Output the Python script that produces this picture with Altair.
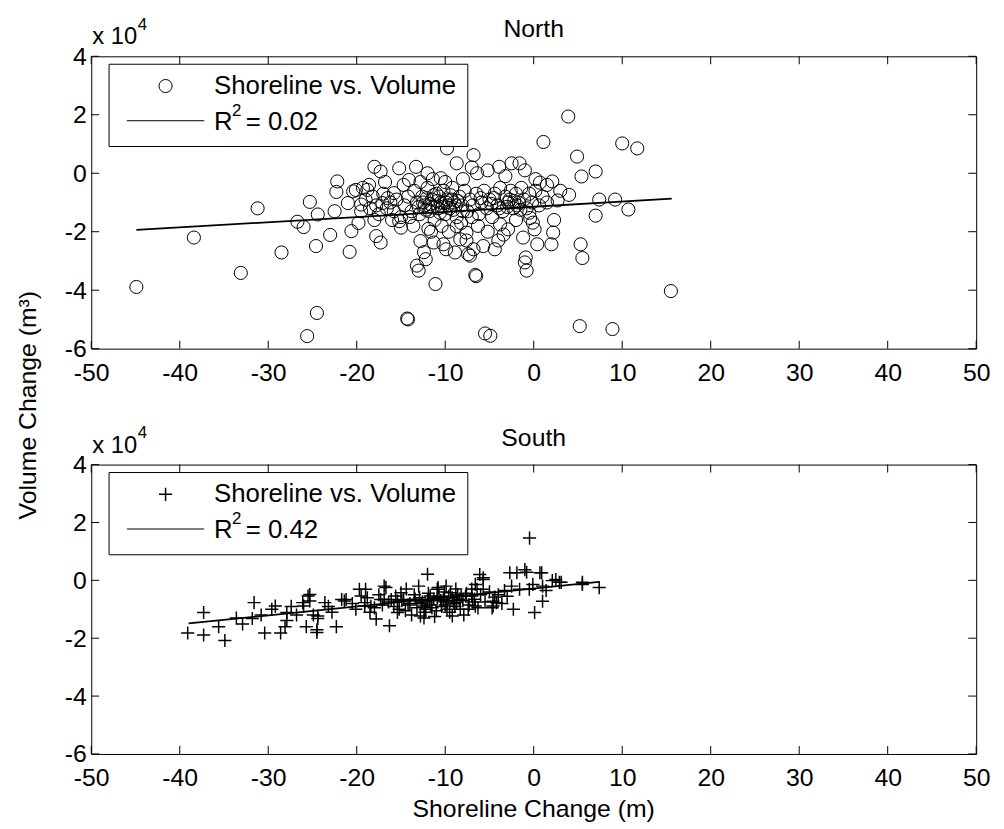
import altair as alt
import pandas as pd

FONT = "Liberation Sans"

# ---------------- data (volume in units of 10^4 m^3) ----------------
north_shoreline = [
    -44.9, -38.4, -33.1, -31.2, -28.5, -26.7, -26.0, -25.6, -24.5, -24.6,
    -25.3, -24.4, -23.0, -22.2, -22.3, -22.5, -20.8, -20.6, -20.4, -21.0,
    -20.1, -19.5, -18.8, -18.0, -17.3, -17.8, -17.3, -17.1, -16.5, -15.8,
    -15.2, -14.1, -13.3, -14.3, -14.2, -13.2, -12.2, -13.0, -11.1, -12.0,
    -10.5, -9.8, -8.7, -6.8, -6.4, -6.6, -6.5, -7.4, -8.9, -5.5,
    -4.9, -15.0, -15.2, -12.8, -11.3, -10.2, -8.7, -8.3, 3.9, 1.1,
    10.0, 11.7, 4.9, 5.4, 7.0, 7.4, 9.2, 10.7, 7.0, 2.3,
    2.2, 2.0, 0.4, 5.3, 5.5, 15.5, 5.2, 8.9, -0.9, -1.0,
    -0.8, -3.9, -2.5, -1.6, 0.7, 2.1, 4.0, 2.7, -0.4, -0.1,
    0.1, -2.9, -4.4, -5.7, -7.2, -7.6, -3.8,
    -19.5, -19.0, -18.5, -18.2, -17.8, -17.5, -17.0, -16.6, -16.2, -15.8,
    -15.5, -15.0, -14.6, -14.2, -13.8, -13.5, -13.2, -12.9, -12.6, -12.3,
    -12.0, -11.8, -11.5, -11.2, -11.0, -10.8, -10.5, -10.2, -10.0, -9.8,
    -9.5, -9.2, -9.0, -8.7, -8.4, -8.1, -7.8, -7.5, -7.2, -6.9,
    -6.5, -6.2, -5.9, -5.6, -5.3, -5.0, -4.7, -4.4, -4.1, -3.8,
    -3.5, -3.2, -2.9, -2.6, -2.3, -2.0, -1.7, -1.4, -1.1, -0.8,
    -0.5, -0.2, 0.2, 0.6, 1.0, 1.5,
    -12.5, -11.7, -10.9, -10.3, -9.7, -9.1, -8.6, -11.3, -12.2, -13.0,
    -10.6, -9.4, -8.0, -7.0, -6.0, -4.8, -3.0, -2.2, -1.5, -0.5,
    -14.0, -16.0, -18.0, -19.8, -13.6, -11.9, -10.4, -9.6, -8.2, -6.3,
    -5.2, -3.4, -2.0, -1.2, -7.6, -9.9, -12.4, -11.6, -6.8, -4.0,
    -14.7, -12.8, -11.4, -10.0, -8.0, -7.0, -5.2, -3.2, -1.0, 0.2,
    1.5, 3.0, -16.8, -18.6, -19.3,
    -12.1, -11.4, -10.7, -9.9, -9.3, -8.8, -4.5, -3.9, -2.7, -1.9,
]
north_volume = [
    -3.89, -2.20, -3.41, -1.20, -2.71, -1.66, -1.84, -5.57, -4.78, -2.49,
    -0.98, -1.41, -2.11, -0.28, -0.64, -1.30, -2.69, -1.98, -0.62, -1.02,
    -0.57, -1.07, -0.57, 0.22, 0.06, -2.15, -2.37, -1.02, -0.85, -0.68,
    0.17, -0.23, 0.22, -4.97, -5.00, -3.16, -2.94, -3.33, -3.79, 0.00,
    -0.17, 0.85, 0.34, 0.62, 0.00, -3.48, -3.52, -2.77, -2.71, -5.48,
    -5.56, -1.86, -1.64, -2.32, -2.37, -2.43, -1.81, -2.26, 1.94, 1.07,
    1.02, 0.85, 0.57, -0.11, 0.06, -0.90, -0.90, -1.24, -1.45, -1.60,
    -2.03, -2.43, -2.43, -2.43, -2.90, -4.03, -5.23, -5.33, -2.88, -3.05,
    -3.33, 0.22, 0.34, 0.34, -0.32, -0.28, -0.74, -0.93, -1.53, -1.69,
    -1.92, -1.92, -2.60, -2.49, -2.82, -2.03, -1.75,
    -1.3, -0.9, -1.2, -0.8, -1.1, -1.4, -0.7, -1.2, -1.0, -1.3,
    -0.9, -1.5, -1.1, -0.8, -1.3, -0.6, -1.0, -1.4, -0.8, -1.1,
    -0.5, -1.3, -0.9, -1.6, -0.7, -1.2, -1.0, -0.6, -1.4, -0.9,
    -1.2, -0.5, -1.0, -1.5, -0.8, -1.1, -0.6, -1.3, -0.9, -1.1,
    -0.7, -1.4, -1.0, -0.6, -1.2, -0.9, -1.5, -0.7, -1.1, -0.5,
    -1.3, -0.8, -1.0, -0.6, -1.2, -0.7, -1.0, -0.5, -0.9, -1.2,
    -0.7, -1.0, -0.6, -1.1, -0.8, -1.0,
    -1.0, -1.05, -0.95, -1.15, -1.1, -1.25, -0.95, -0.75, -1.25, -1.15,
    -1.35, -0.75, -1.3, -1.5, -0.85, -1.05, -1.15, -0.95, -1.25, -1.35,
    -1.5, -1.6, -1.6, -1.7, -1.8, -1.9, -1.8, -2.0, -1.7, -1.8,
    -2.0, -2.1, -1.6, -2.2, -2.3, -2.6, -2.7, -2.0, -2.6, -2.3,
    -0.4, -0.3, -0.2, -0.3, -0.2, 0.2, 0.1, -0.1, 0.1, -0.2,
    -0.4, -0.6, -0.3, -0.4, -0.5,
    -0.85, -1.15, -0.8, -1.0, -0.9, -1.1, -0.85, -1.2, -0.9, -1.1,
]
north_fit_shoreline = [-44.9, 15.6]
north_fit_volume = [-1.94, -0.87]
north_r2 = "0.02"

south_shoreline = [
    -39.1, -37.3, -37.3, -34.9, -32.9, -31.6, -31.8, -30.4, -28.6, -29.6,
    -29.2, -27.9, -27.9, -28.1, -26.1, -25.5, -25.3, -25.7, -24.5, -24.9,
    -24.4, -23.6, -21.7, -21.4, -19.7, -19.5, -19.1, -19.0, -20.1, -17.8,
    -16.9, -17.3, -16.3, -16.1, -15.6, -25.3, -26.0, -24.5, -22.3, -24.4,
    -21.2, -19.1, -16.7, -16.9, -15.4, -15.0, -15.4, -14.7, -12.0, -12.8,
    -12.4, -11.7, -10.9, -10.2, -9.4, -8.7, -5.7, -6.4, -5.7, -4.6,
    -4.2, -2.3, -1.9, -0.8, 0.9, 0.1, 1.0, 2.1, 2.9, 5.5,
    -2.7, -0.47, 7.4, 5.5, -1.0, 0.7, 2.5, 3.1, 1.0, -4.6,
    -5.7, -6.1, -9.2, -9.8, -4.4, -3.3, -3.0, -2.5, -1.6, -0.5,
    -0.1, 1.4, -6.6, -7.0, -6.6,
    -14.0, -13.5, -13.2, -12.9, -12.6, -12.2, -11.9, -11.6, -11.3, -11.0,
    -10.7, -10.4, -10.1, -9.8, -9.5, -9.2, -8.9, -8.6, -8.3, -8.0,
    -7.6, -7.3, -7.0, -6.7, -6.3, -6.0, -5.5, -5.0, -4.7, -4.0,
    -3.6, -13.8, -12.4, -11.2, -10.8, -9.9, -8.8, -7.9, -15.2, -14.4,
    -13.0, -12.0, -11.5, -10.5, -9.6, -9.0, -8.2, -7.4, -6.9, -18.4,
    -18.8, -20.5, -22.8, -23.2, -26.8, -27.4, -30.8, -33.6, -35.6,
    -18.0, -17.1, -16.4, -15.8, -14.9, -14.2, -13.4, -12.7, -11.8, -10.9,
    -10.0, -9.1, -8.4, -7.7, -18.5, -17.5, -14.5, -12.3,
]
south_volume = [
    -1.82, -1.11, -1.89, -2.08, -1.51, -0.77, -1.32, -1.82, -1.82, -1.00,
    -0.89, -1.11, -1.39, -1.60, -0.77, -0.54, -0.71, -1.60, -1.71, -1.20,
    -1.32, -0.77, -0.66, -0.71, -0.31, -0.54, -0.77, -0.31, -1.00, -1.34,
    -0.20, -0.66, -1.57, -0.66, -0.54, -0.49, -0.89, -1.80, -1.60, -1.23,
    -0.66, -0.89, -0.25, -0.66, -0.72, -0.43, -1.11, -0.66, 0.21, -1.23,
    -0.89, -0.54, -0.31, -0.66, -0.43, -0.77, 0.09, -0.31, -0.31, -0.72,
    -0.77, -1.00, 0.26, 0.28, 0.26, -1.11, -0.72, -0.01, -0.07, -0.07,
    0.26, 1.46, -0.25, -0.14, 0.37, 0.26, 0.03, -0.07, -0.20, -0.89,
    0.03, 0.20, -1.23, -1.00, -0.58, -0.35, -0.55, -0.20, -0.31, -0.31,
    -0.14, -0.35, -0.14, -0.54, -0.89,
    -0.8, -0.5, -0.95, -0.6, -0.75, -1.0, -0.45, -0.85, -0.65, -1.05,
    -0.55, -0.9, -0.4, -0.75, -1.1, -0.6, -0.9, -0.5, -1.0, -0.7,
    -0.45, -0.85, -0.3, -0.65, -0.95, -0.5, -0.75, -0.4, -0.95, -0.5,
    -0.8, -1.2, -1.3, -1.25, -0.25, -0.2, -0.3, -1.2, -1.0, -0.3,
    -0.2, -0.7, -0.95, -0.7, -0.55, -0.8, -0.55, -1.0, -0.75, -0.9,
    -0.6, -0.8, -1.1, -0.9, -1.2, -0.9, -1.2, -1.3, -1.6,
    -0.95, -0.85, -0.75, -0.9, -0.7, -0.85, -0.65, -0.8, -0.7, -0.6,
    -0.85, -0.7, -0.65, -0.55, -1.1, -0.5, -1.05, -1.1,
]
south_fit_shoreline = [-39.0, 7.4]
south_fit_volume = [-1.49, -0.05]
south_r2 = "0.42"

x_ticks = [-50, -40, -30, -20, -10, 0, 10, 20, 30, 40, 50]
y_ticks = [-6, -4, -2, 0, 2, 4]

W = 893
CIRCLE = "circle"
PLUS = "M-1,0L1,0M0,-1L0,1"


def panel(title, xs, ys, fx, fy, r2, shape, H, first):
    pts = pd.DataFrame({"x": xs, "y": ys})
    fit = pd.DataFrame({"x": fx, "y": fy})
    xt = pd.DataFrame({"x": x_ticks})
    yt = pd.DataFrame({"y": y_ticks})
    one = alt.Data(values=[{"a": 1}])

    xsc = alt.Scale(domain=[-50, 50], nice=False, zero=False)
    ysc = alt.Scale(domain=[-6, 4], nice=False, zero=False)
    xax = alt.Axis(values=x_ticks, domain=False, ticks=False, tickSize=0, grid=False,
                   labelFontSize=25, labelFont=FONT, labelColor="black",
                   labelExpr="'' + datum.value",
                   labelPadding=12, labelFlush=False, labelOverlap=False, title=None)
    yax = alt.Axis(values=y_ticks, domain=False, ticks=False, tickSize=0, grid=False,
                   labelFontSize=25, labelFont=FONT, labelColor="black",
                   labelExpr="'' + datum.value",
                   labelPadding=5, labelFlush=False, labelOverlap=False, title=None)
    X = alt.X("x:Q", scale=xsc, axis=xax)
    Y = alt.Y("y:Q", scale=ysc, axis=yax)

    sw = 1.0 if shape == CIRCLE else 1.5
    size = 175
    points = alt.Chart(pts).mark_point(shape=shape, filled=False, stroke="black",
                                       strokeWidth=sw, size=size, opacity=1).encode(x=X, y=Y)
    line = alt.Chart(fit).mark_line(color="black", strokeWidth=1.8).encode(x=X, y=Y)

    tk = dict(color="black", strokeWidth=1)
    xb = alt.Chart(xt).mark_rule(**tk).encode(x=X, y=alt.value(H), y2=alt.value(H - 8))
    xtp = alt.Chart(xt).mark_rule(**tk).encode(x=X, y=alt.value(0), y2=alt.value(8))
    yl = alt.Chart(yt).mark_rule(**tk).encode(y=Y, x=alt.value(0), x2=alt.value(8))
    yr = alt.Chart(yt).mark_rule(**tk).encode(y=Y, x=alt.value(W), x2=alt.value(W - 8))

    box = alt.Chart(one).mark_rect(fill="white", stroke="black", strokeWidth=1).encode(
        x=alt.value(18), x2=alt.value(380), y=alt.value(8), y2=alt.value(91))
    sym = alt.Chart(one).mark_point(shape=shape, filled=False, stroke="black",
                                    strokeWidth=sw, size=size, opacity=1).encode(
        x=alt.value(75), y=alt.value(30))
    lline = alt.Chart(one).mark_rule(color="black", strokeWidth=1).encode(
        x=alt.value(36), x2=alt.value(114), y=alt.value(65))
    tx = dict(font=FONT, color="black")
    t1 = alt.Chart(one).mark_text(text="Shoreline vs. Volume", align="left", baseline="middle",
                                  fontSize=26, **tx).encode(x=alt.value(124), y=alt.value(30))
    t2 = alt.Chart(one).mark_text(text="R", align="left", baseline="middle",
                                  fontSize=26, **tx).encode(x=alt.value(124), y=alt.value(66))
    t3 = alt.Chart(one).mark_text(text="2", align="left", baseline="middle",
                                  fontSize=17, **tx).encode(x=alt.value(142), y=alt.value(55))
    t4 = alt.Chart(one).mark_text(text="= " + r2, align="left", baseline="middle",
                                  fontSize=26, **tx).encode(x=alt.value(156), y=alt.value(66))

    ttl = alt.Chart(one).mark_text(text=title, align="center", baseline="alphabetic",
                                   fontSize=25, **tx).encode(x=alt.value(W / 2), y=alt.value(-19))
    e1 = alt.Chart(one).mark_text(text="x 10", align="left", baseline="alphabetic",
                                  fontSize=24, **tx).encode(x=alt.value(1), y=alt.value(-12))
    e2 = alt.Chart(one).mark_text(text="4", align="left", baseline="alphabetic",
                                  fontSize=17, **tx).encode(x=alt.value(47), y=alt.value(-27))

    layers = [points, line, xb, xtp, yl, yr, box, sym, lline, t1, t2, t3, t4, ttl, e1, e2]
    if first:
        ytitle = alt.Chart(one).mark_text(text="Volume Change (m³)", angle=270, align="center",
                                          baseline="alphabetic", fontSize=25, **tx).encode(
            x=alt.value(-56), y=alt.value(352))
        layers.append(ytitle)
    else:
        xtitle = alt.Chart(one).mark_text(text="Shoreline Change (m)", align="center",
                                          baseline="middle", fontSize=25, **tx).encode(
            x=alt.value(W / 2), y=alt.value(H + 56))
        layers.append(xtitle)
    return alt.layer(*layers).properties(width=W, height=H)


top = panel("North", north_shoreline, north_volume, north_fit_shoreline, north_fit_volume,
            north_r2, CIRCLE, 295, True)
bottom = panel("South", south_shoreline, south_volume, south_fit_shoreline, south_fit_volume,
               south_r2, PLUS, 292, False)

chart = alt.vconcat(top, bottom, spacing=117, bounds="flush").properties(
    padding={"left": 7, "top": 3, "right": 5, "bottom": 5},
    background="white",
).configure_view(stroke="black", strokeWidth=1)

chart.save("out.html", embed_options={"renderer": "svg", "actions": False})
